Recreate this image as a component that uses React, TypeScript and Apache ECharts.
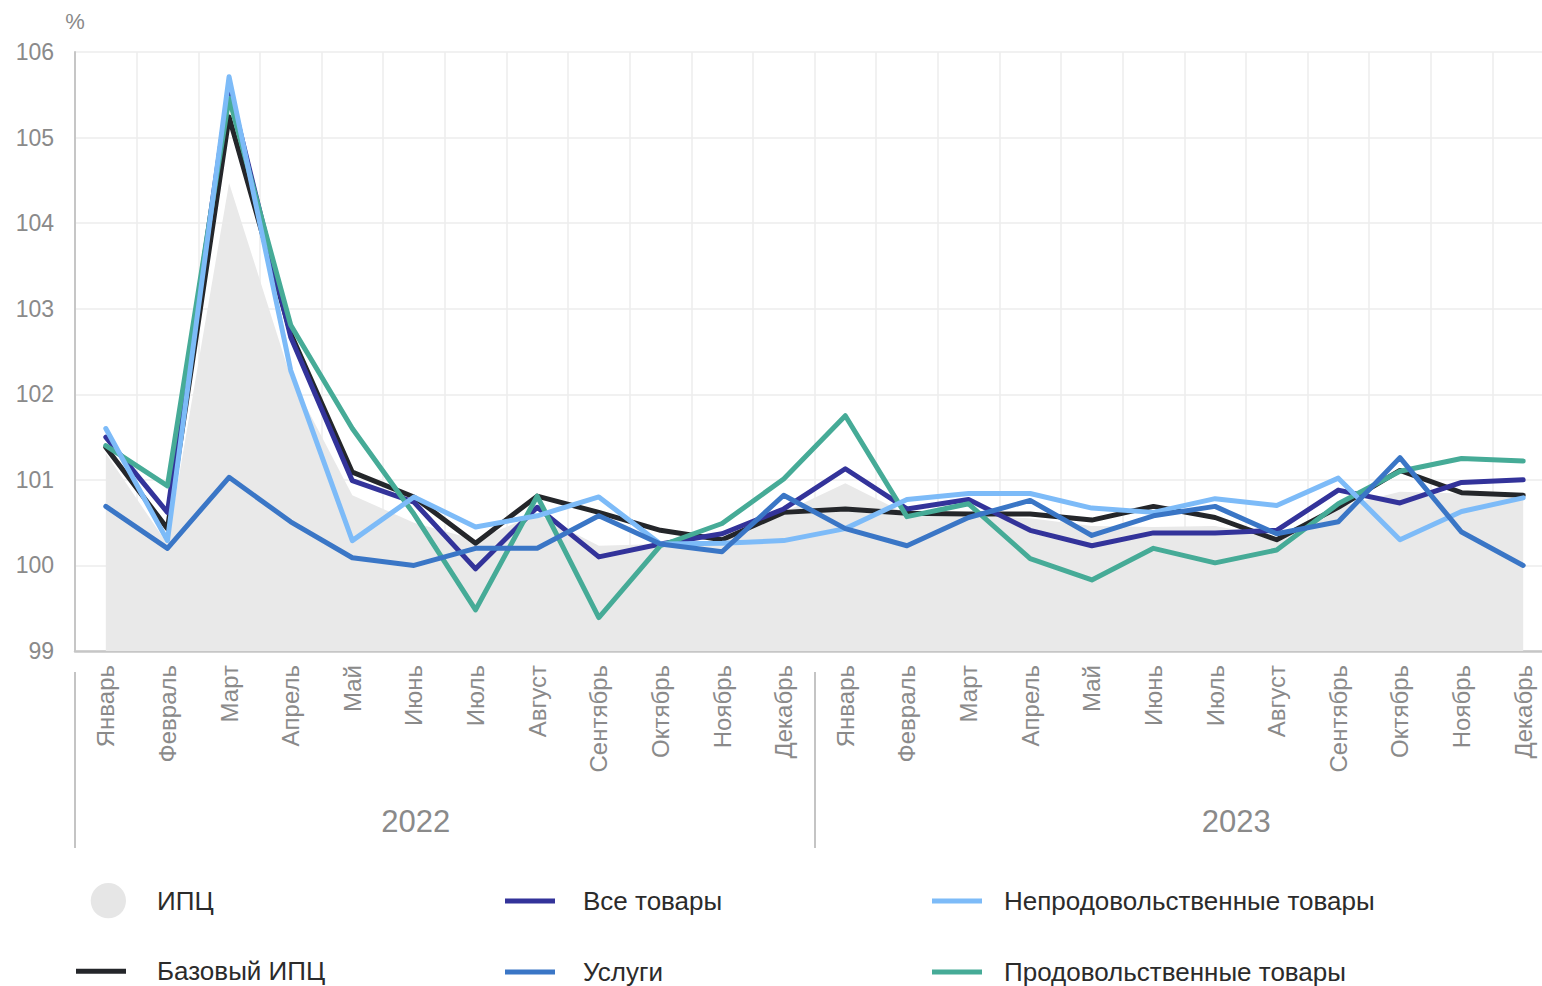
import React, { useEffect, useRef } from 'react';
import * as echarts from 'echarts';

const months = ['Январь', 'Февраль', 'Март', 'Апрель', 'Май', 'Июнь', 'Июль', 'Август', 'Сентябрь', 'Октябрь', 'Ноябрь', 'Декабрь'];
const years = ['2022', '2023'];
const categories = [...months, ...months];

const cpi = [101.31, 100.25, 104.47, 102.2, 100.82, 100.5, 100.3, 100.6, 100.23, 100.25, 100.29, 100.62, 100.96, 100.6, 100.58, 100.55, 100.46, 100.45, 100.46, 100.33, 100.68, 100.86, 100.84, 100.79];
const coreCpi = [101.38, 100.43, 105.24, 102.71, 101.09, 100.8, 100.26, 100.81, 100.62, 100.41, 100.3, 100.62, 100.66, 100.61, 100.6, 100.6, 100.53, 100.69, 100.56, 100.3, 100.68, 101.11, 100.85, 100.82];
const allGoods = [101.5, 100.62, 105.6, 102.67, 100.99, 100.74, 99.96, 100.68, 100.1, 100.25, 100.37, 100.66, 101.13, 100.66, 100.77, 100.41, 100.23, 100.38, 100.38, 100.41, 100.88, 100.73, 100.97, 101.0];
const services = [100.69, 100.2, 101.03, 100.51, 100.09, 100.0, 100.2, 100.2, 100.58, 100.25, 100.16, 100.82, 100.43, 100.23, 100.56, 100.76, 100.35, 100.58, 100.69, 100.37, 100.51, 101.26, 100.39, 100.0];
const nonFood = [101.6, 100.29, 105.71, 102.28, 100.29, 100.8, 100.45, 100.58, 100.8, 100.25, 100.26, 100.29, 100.43, 100.77, 100.84, 100.84, 100.67, 100.62, 100.78, 100.7, 101.02, 100.3, 100.63, 100.79];
const food = [101.4, 100.93, 105.46, 102.81, 101.6, 100.6, 99.48, 100.81, 99.39, 100.23, 100.49, 101.01, 101.75, 100.57, 100.72, 100.08, 99.83, 100.2, 100.03, 100.18, 100.72, 101.1, 101.25, 101.22];

const FONT = "'Liberation Sans', Arial, sans-serif";
const LINE_ICON = 'path://M0,0 M50,36 M0,15.5 L50,15.5 L50,20.5 L0,20.5 Z';
const CIRCLE_ICON = 'path://M0,0 M50,36 M51,18 A18,18 0 1 1 15,18 A18,18 0 1 1 51,18 Z';

export default function App() {
  const ref = useRef<HTMLDivElement>(null);
  useEffect(() => {
    if (!ref.current) return;
    const chart = echarts.init(ref.current, null, { renderer: 'svg' });
    const lineSeries = (name: string, data: number[], color: string) => ({
      name,
      type: 'line',
      data,
      symbol: 'none',
      showSymbol: false,
      color,
      itemStyle: { color },
      lineStyle: { color, width: 5, join: 'round', cap: 'round' },
      z: 3,
    });
    const legendBase = (left: number, gap: number) => ({
      orient: 'vertical',
      left,
      top: 883,
      height: 200,
      padding: 0,
      itemWidth: 50,
      itemHeight: 36,
      itemGap: 35,
      selectedMode: false,
      textStyle: { fontSize: 26, color: '#2b2b2b', fontFamily: FONT, padding: [0, 0, 0, gap] },
    });
    chart.setOption({
      animation: false,
      textStyle: { fontFamily: FONT },
      grid: { left: 75, top: 52, width: 1479, height: 599, containLabel: false },
      legend: [
        {
          ...legendBase(76, 26),
          data: [
            { name: 'ИПЦ', icon: CIRCLE_ICON, itemStyle: { color: '#e6e6e6' } },
            { name: 'Базовый ИПЦ', icon: LINE_ICON },
          ],
        },
        {
          ...legendBase(505, 23),
          data: [
            { name: 'Все товары', icon: LINE_ICON },
            { name: 'Услуги', icon: LINE_ICON },
          ],
        },
        {
          ...legendBase(932, 17),
          data: [
            { name: 'Непродовольственные товары', icon: LINE_ICON },
            { name: 'Продовольственные товары', icon: LINE_ICON },
          ],
        },
      ],
      xAxis: [
        {
          type: 'category',
          data: categories,
          boundaryGap: true,
          axisLine: { show: true, lineStyle: { color: '#c6c6c6', width: 2.5 } },
          axisTick: { show: false },
          splitLine: { show: true, interval: 0, lineStyle: { color: '#ececec', width: 1.5 } },
          axisLabel: {
            interval: 0,
            rotate: 90,
            margin: 14,
            fontSize: 24,
            color: '#8a8a8a',
            fontFamily: FONT,
          },
        },
        {
          type: 'category',
          data: [
            { value: years[0], textStyle: { padding: [0, 58, 0, 0] } },
            { value: years[1], textStyle: { padding: [0, 0, 0, 104] } },
          ],
          position: 'bottom',
          offset: 21,
          boundaryGap: true,
          axisLine: { show: false },
          axisTick: { show: true, length: 176, lineStyle: { color: '#c4c4c4', width: 2 } },
          splitLine: { show: false },
          axisLabel: {
            interval: 0,
            margin: 134,
            fontSize: 31,
            color: '#8a8a8a',
            fontFamily: FONT,
          },
        },
      ],
      yAxis: {
        type: 'value',
        min: 99,
        max: 106,
        interval: 1,
        name: '%',
        nameLocation: 'end',
        nameGap: 20,
        nameTextStyle: { fontSize: 22, color: '#8a8a8a', fontFamily: FONT, align: 'center' },
        axisLine: { show: true, lineStyle: { color: '#c6c6c6', width: 2 } },
        axisTick: { show: false },
        splitLine: { show: true, lineStyle: { color: '#ececec', width: 1.5 } },
        axisLabel: { fontSize: 23, color: '#8a8a8a', margin: 21, fontFamily: FONT },
      },
      series: [
        {
          name: 'ИПЦ',
          type: 'line',
          data: cpi,
          symbol: 'none',
          showSymbol: false,
          color: '#e6e6e6',
          itemStyle: { color: '#e6e6e6' },
          lineStyle: { width: 0, opacity: 0 },
          areaStyle: { color: '#e9e9e9', opacity: 1, origin: 'start' },
          z: 1,
        },
        lineSeries('Базовый ИПЦ', coreCpi, '#24262a'),
        lineSeries('Все товары', allGoods, '#33339a'),
        lineSeries('Продовольственные товары', food, '#46ab97'),
        lineSeries('Непродовольственные товары', nonFood, '#7dbbf8'),
        lineSeries('Услуги', services, '#3a76c6'),
      ],
    });
    return () => chart.dispose();
  }, []);
  return (
    <div
      style={{ position: 'fixed', left: 0, top: 0, width: 1542, height: 986, overflow: 'hidden', background: '#ffffff' }}
    >
      <div ref={ref} style={{ width: 1580, height: 986 }} />
    </div>
  );
}
